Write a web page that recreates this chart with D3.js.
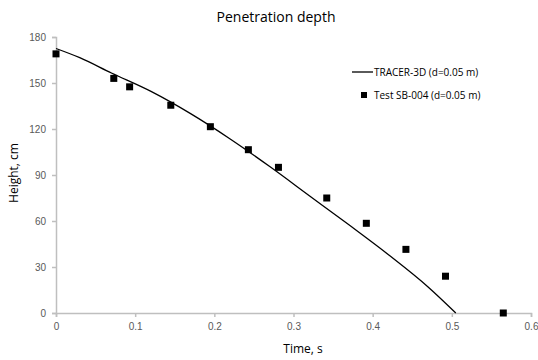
<!DOCTYPE html>
<html lang="en">
<head>
<meta charset="UTF-8">
<title>Penetration depth</title>
<script src="https://cdn.jsdelivr.net/npm/d3@7"></script>
<style>
  body {
    margin: 0;
    background: #fff;
  }
  svg {
    font-family: "Open Sans", "Liberation Sans", sans-serif;
  }
  .tick text {
    fill: #595959;
    font-size: 10px;
  }
</style>
</head>
<body>
<div id="chart"></div>
<script>
  // TRACER-3D simulation curve
  var simTime = [0, 0.03, 0.07, 0.12, 0.17, 0.22, 0.27, 0.32, 0.37, 0.42, 0.47, 0.505];
  var simHeight = [172.5, 166.5, 156.5, 144.5, 130, 113.5, 95.5, 76.5, 57.5, 38, 17, 0];

  // Test SB-004 measured points
  var testTime = [0, 0.073, 0.093, 0.145, 0.195, 0.243, 0.281, 0.342, 0.392, 0.442, 0.492, 0.565];
  var testHeight = [169, 153, 147.5, 135.5, 121.5, 106.5, 95, 75, 58.5, 41.5, 24, 0];

  var xTicks = [0, 0.1, 0.2, 0.3, 0.4, 0.5, 0.6];
  var yTicks = [0, 30, 60, 90, 120, 150, 180];

  var width = 538, height = 360;
  var margin = {top: 37, right: 7, bottom: 47, left: 56};

  var x = d3.scaleLinear().domain([0, 0.6]).range([margin.left, width - margin.right]);
  var y = d3.scaleLinear().domain([0, 180]).range([height - margin.bottom, margin.top]);

  var svg = d3.select("#chart").append("svg")
      .attr("width", width)
      .attr("height", height);

  var axisColor = "#bfbfbf";

  svg.append("g")
      .attr("transform", "translate(0," + y(0) + ")")
      .call(d3.axisBottom(x).tickValues(xTicks).tickSize(4).tickPadding(6)
        .tickFormat(function(d) { return d === 0 ? "0" : d3.format(".1f")(d); }))
      .call(function(g) {
        g.selectAll(".domain, line").attr("stroke", axisColor).attr("stroke-width", 1.5);
      });

  svg.append("g")
      .attr("transform", "translate(" + x(0) + ",0)")
      .call(d3.axisLeft(y).tickValues(yTicks).tickSize(4).tickPadding(6))
      .call(function(g) {
        g.selectAll(".domain, line").attr("stroke", axisColor).attr("stroke-width", 1.5);
      });

  var simData = simTime.map(function(t, i) { return [t, simHeight[i]]; });
  var testData = testTime.map(function(t, i) { return [t, testHeight[i]]; });

  svg.append("path")
      .datum(simData)
      .attr("fill", "none")
      .attr("stroke", "#000")
      .attr("stroke-width", 1.3)
      .attr("d", d3.line()
        .curve(d3.curveMonotoneX)
        .x(function(d) { return x(d[0]); })
        .y(function(d) { return y(d[1]); }));

  var ms = 7;
  svg.append("g").selectAll("rect")
      .data(testData)
    .enter().append("rect")
      .attr("x", function(d) { return x(d[0]) - ms / 2; })
      .attr("y", function(d) { return y(d[1]) - ms / 2; })
      .attr("width", ms)
      .attr("height", ms)
      .attr("fill", "#000");

  // title and axis labels
  svg.append("text")
      .attr("x", 276)
      .attr("y", 22)
      .attr("text-anchor", "middle")
      .style("font-size", "14px")
      .style("fill", "#000")
      .text("Penetration depth");

  svg.append("text")
      .attr("x", 303)
      .attr("y", 353)
      .attr("text-anchor", "middle")
      .style("font-size", "12px")
      .style("fill", "#000")
      .text("Time, s");

  svg.append("text")
      .attr("transform", "translate(14,173) rotate(-90)")
      .attr("dy", "0.35em")
      .attr("text-anchor", "middle")
      .style("font-size", "12px")
      .style("fill", "#000")
      .text("Height, cm");

  // legend
  var legend = svg.append("g").style("font-size", "10px");
  legend.append("line")
      .attr("x1", 352).attr("x2", 373)
      .attr("y1", 72).attr("y2", 72)
      .attr("stroke", "#000").attr("stroke-width", 1.3);
  legend.append("text")
      .attr("x", 374).attr("y", 72).attr("dy", "0.35em")
      .style("fill", "#000")
      .text("TRACER-3D (d=0.05 m)");
  legend.append("rect")
      .attr("x", 361).attr("y", 92)
      .attr("width", 6).attr("height", 6)
      .attr("fill", "#000");
  legend.append("text")
      .attr("x", 374).attr("y", 95).attr("dy", "0.35em")
      .style("fill", "#000")
      .text("Test SB-004 (d=0.05 m)");
</script>
</body>
</html>
